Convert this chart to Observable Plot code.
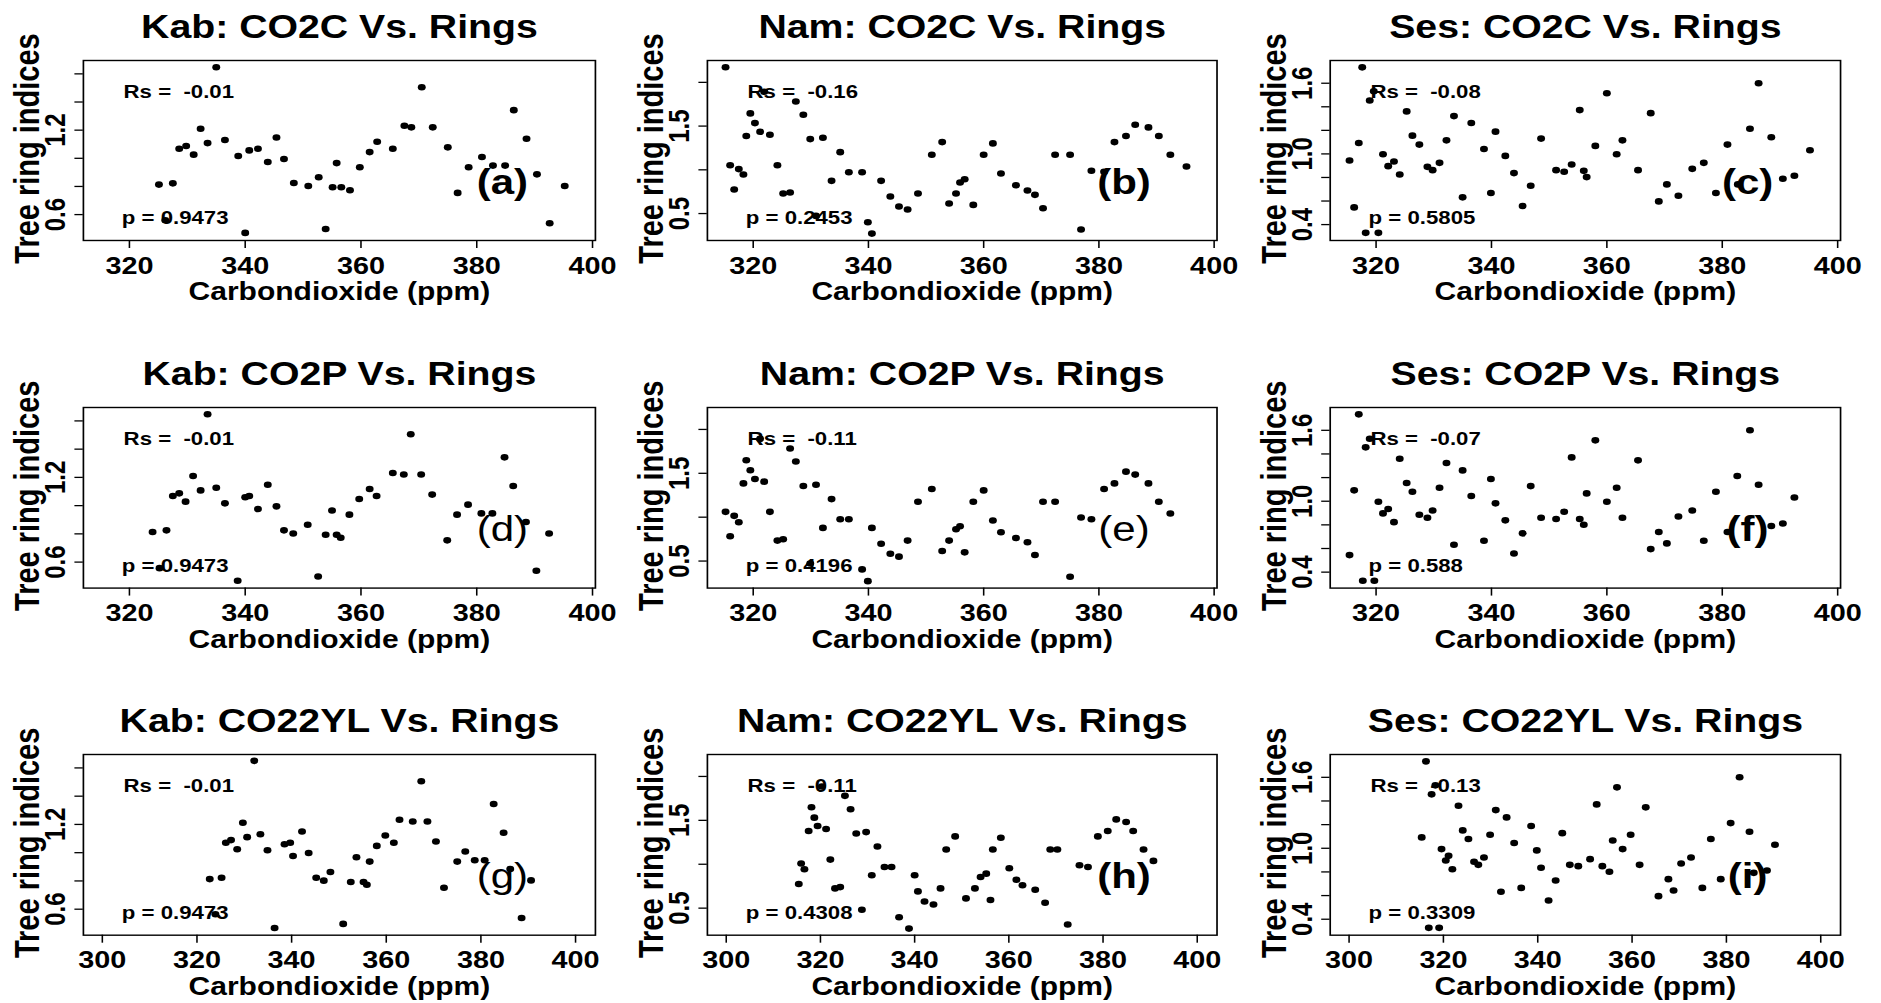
<!DOCTYPE html>
<html><head><meta charset="utf-8">
<script src="https://cdn.jsdelivr.net/npm/d3@7"></script>
<script src="https://cdn.jsdelivr.net/npm/@observablehq/plot@0.6"></script>
<style>
html,body{margin:0;padding:0;background:#fff;overflow:hidden;}
#page{position:relative;width:1881px;height:1003px;overflow:hidden;background:#fff;}
#wrap{position:absolute;left:0;top:0;width:1567.5px;height:1003px;transform:scale(1.2,1);transform-origin:0 0;}
#wrap svg{position:absolute;}
</style>
</head><body><div id="page"><div id="wrap"></div></div>
<script>
// ---- data: [CO2 ppm, tree ring index] ----
const kabCO2C = [[325.1,0.813],[326.2,0.56],[327.5,0.822],[328.6,1.068],[329.8,1.087],[331.1,1.026],[332.3,1.21],[333.5,1.108],[335.0,1.647],[336.5,1.13],[338.8,1.016],[340.0,0.47],[340.7,1.056],[342.2,1.068],[343.9,0.974],[345.4,1.148],[346.7,0.995],[348.4,0.825],[350.9,0.803],[352.7,0.865],[353.9,0.498],[355.1,0.794],[355.8,0.966],[356.6,0.794],[358.1,0.773],[359.8,0.936],[361.5,1.044],[362.8,1.118],[365.5,1.068],[367.5,1.231],[368.7,1.22],[370.5,1.505],[372.4,1.22],[375.0,1.078],[376.7,0.754],[378.6,0.936],[380.9,1.009],[382.8,0.948],[384.9,0.948],[386.4,1.342],[388.6,1.139],[390.4,0.886],[392.6,0.539],[395.2,0.803]];
const kabCO2P = [[324.0,0.813],[325.2,0.557],[326.4,0.825],[327.5,1.068],[328.6,1.087],[329.7,1.028],[331.0,1.21],[332.3,1.108],[333.5,1.647],[335.0,1.127],[336.5,1.016],[338.7,0.468],[340.0,1.059],[340.7,1.068],[342.2,0.976],[343.9,1.148],[345.4,0.995],[346.7,0.825],[348.3,0.803],[350.8,0.865],[352.6,0.498],[353.9,0.794],[355.0,0.966],[355.8,0.794],[356.5,0.773],[358.0,0.936],[359.7,1.047],[361.5,1.118],[362.7,1.068],[365.5,1.231],[367.4,1.22],[368.6,1.505],[370.4,1.22],[372.3,1.078],[374.9,0.754],[376.6,0.936],[378.5,1.007],[380.8,0.945],[382.7,0.945],[384.8,1.342],[386.3,1.139],[388.5,0.884],[390.3,0.539],[392.5,0.803]];
const kabCO22YL = [[322.7,0.813],[323.9,0.564],[325.2,0.823],[326.1,1.07],[327.2,1.089],[328.5,1.024],[329.7,1.212],[330.6,1.11],[332.1,1.65],[333.4,1.131],[334.9,1.017],[336.4,0.467],[338.5,1.06],[339.7,1.07],[340.3,0.977],[342.2,1.15],[343.6,0.998],[345.2,0.823],[346.8,0.802],[348.2,0.863],[350.9,0.496],[352.5,0.792],[353.7,0.968],[355.2,0.792],[355.9,0.773],[356.5,0.937],[358.0,1.048],[359.8,1.122],[361.6,1.07],[362.8,1.233],[365.6,1.221],[367.4,1.506],[368.7,1.221],[370.5,1.079],[372.2,0.752],[375.0,0.937],[376.7,1.008],[378.7,0.946],[380.8,0.946],[382.7,1.345],[384.8,1.141],[386.2,0.885],[388.6,0.538],[390.6,0.804]];
const namCO2C = [[315.2,2.172],[316.0,1.053],[316.7,0.775],[317.5,1.008],[318.3,0.947],[318.8,1.386],[319.5,1.645],[320.3,1.534],[321.2,1.435],[321.9,1.893],[322.9,1.401],[324.2,1.053],[325.2,0.729],[326.4,0.740],[327.4,1.782],[328.7,1.63],[329.9,1.351],[330.9,0.473],[332.1,1.366],[333.6,0.874],[335.1,1.202],[336.6,0.973],[338.9,0.973],[339.9,0.401],[340.6,0.271],[342.2,0.874],[343.8,0.695],[345.3,0.58],[346.8,0.546],[348.6,0.729],[351.0,1.172],[352.8,1.317],[354.0,0.615],[355.2,0.729],[355.9,0.855],[356.7,0.893],[358.2,0.599],[360.0,1.172],[361.6,1.302],[363.0,0.958],[365.6,0.824],[367.6,0.763],[368.9,0.714],[370.3,0.561],[372.4,1.172],[375.0,1.172],[376.9,0.317],[378.7,0.989],[380.9,0.977],[382.7,1.317],[384.7,1.386],[386.3,1.515],[388.6,1.485],[390.4,1.386],[392.4,1.172],[395.2,1.038]];
const namCO2P = [[315.2,1.061],[316.0,0.782],[316.7,1.015],[317.5,0.943],[318.3,1.385],[318.8,1.649],[319.5,1.534],[320.3,1.435],[321.2,1.893],[321.9,1.405],[322.9,1.061],[324.2,0.733],[325.2,0.748],[326.4,1.782],[327.4,1.634],[328.7,1.355],[329.9,0.473],[330.9,1.37],[332.1,0.878],[333.6,1.206],[335.1,0.977],[336.6,0.977],[338.9,0.405],[339.9,0.271],[340.6,0.878],[342.2,0.698],[343.8,0.584],[345.3,0.55],[346.8,0.733],[348.6,1.176],[351.0,1.321],[352.8,0.615],[354.0,0.733],[355.2,0.863],[355.9,0.897],[356.7,0.599],[358.2,1.176],[360.0,1.305],[361.6,0.962],[363.0,0.828],[365.6,0.763],[367.6,0.714],[368.9,0.569],[370.3,1.176],[372.4,1.176],[375.0,0.321],[376.9,0.996],[378.7,0.977],[380.9,1.321],[382.7,1.385],[384.7,1.519],[386.3,1.485],[388.6,1.385],[390.4,1.176],[392.4,1.042]];
const namCO22YL = [[315.4,0.775],[315.9,1.008],[316.6,0.943],[317.5,1.378],[318.1,1.649],[318.7,1.531],[319.4,1.435],[320.3,1.886],[321.2,1.401],[322.1,1.053],[323.1,0.725],[324.2,0.74],[325.2,1.779],[326.4,1.626],[327.6,1.351],[328.8,0.481],[329.7,1.366],[330.9,0.874],[332.1,1.202],[333.6,0.969],[335.1,0.969],[336.7,0.397],[338.8,0.267],[340.0,0.874],[340.7,0.691],[342.1,0.576],[344.0,0.542],[345.5,0.725],[346.7,1.168],[348.6,1.317],[350.9,0.611],[352.8,0.725],[354.0,0.855],[355.2,0.893],[356.1,0.592],[356.6,1.168],[358.3,1.302],[360.1,0.954],[361.6,0.824],[362.9,0.76],[365.6,0.71],[367.7,0.561],[368.8,1.168],[370.3,1.168],[372.5,0.313],[375.0,0.989],[376.8,0.969],[378.9,1.317],[381.0,1.378],[382.8,1.511],[384.9,1.481],[386.4,1.378],[388.6,1.168],[390.7,1.038]];
const sesCO2C = [[315.4,0.944],[316.2,0.546],[317.0,1.093],[317.6,1.735],[318.2,0.33],[318.9,1.454],[319.6,1.532],[320.4,0.33],[321.2,0.997],[322.1,0.896],[323.1,0.935],[324.1,0.825],[325.3,1.361],[326.3,1.155],[327.5,1.079],[328.9,0.89],[329.8,0.862],[331.0,0.924],[332.2,1.115],[333.5,1.321],[335.0,0.631],[336.5,1.262],[338.7,1.042],[339.9,0.668],[340.7,1.189],[342.4,0.983],[343.9,0.837],[345.4,0.558],[346.8,0.73],[348.6,1.13],[351.2,0.862],[352.6,0.848],[353.9,0.91],[355.3,1.372],[356.0,0.856],[356.5,0.803],[358.0,1.068],[360.0,1.515],[361.7,0.997],[362.7,1.115],[365.4,0.862],[367.6,1.346],[369.0,0.597],[370.4,0.741],[372.4,0.645],[374.8,0.873],[376.8,0.924],[378.9,0.668],[380.9,1.079],[382.7,0.741],[384.8,1.214],[386.3,1.6],[388.5,1.141],[390.5,0.789],[392.5,0.814],[395.2,1.031]];
const sesCO2P = [[315.4,0.544],[316.2,1.092],[317.0,1.735],[317.7,0.327],[318.2,1.456],[318.9,1.529],[319.7,0.327],[320.4,0.996],[321.2,0.897],[322.1,0.934],[323.1,0.823],[324.1,1.36],[325.3,1.154],[326.3,1.08],[327.5,0.886],[328.9,0.86],[329.8,0.922],[331.0,1.114],[332.2,1.323],[333.5,0.632],[335.0,1.261],[336.5,1.044],[338.7,0.665],[339.9,1.188],[340.7,0.982],[342.4,0.838],[343.9,0.558],[345.4,0.728],[346.8,1.128],[348.6,0.86],[351.2,0.849],[352.6,0.911],[353.9,1.371],[355.3,0.849],[356.0,0.801],[356.5,1.066],[358.0,1.515],[360.0,0.996],[361.7,1.114],[362.7,0.86],[365.4,1.346],[367.6,0.595],[369.0,0.739],[370.4,0.643],[372.4,0.871],[374.8,0.922],[376.8,0.665],[378.9,1.08],[380.9,0.739],[382.6,1.213],[384.8,1.6],[386.3,1.14],[388.5,0.79],[390.5,0.812],[392.5,1.032]];
const sesCO22YL = [[315.4,1.092],[316.3,1.735],[316.9,0.327],[317.5,1.456],[318.3,1.532],[319.1,0.327],[319.6,0.993],[320.5,0.897],[321.1,0.936],[321.9,0.823],[323.2,1.36],[324.1,1.151],[325.3,1.078],[326.5,0.886],[327.4,0.86],[328.6,0.922],[329.9,1.114],[331.1,1.323],[332.2,0.632],[333.4,1.261],[335.0,1.044],[336.5,0.665],[338.6,1.188],[339.8,0.982],[340.7,0.835],[342.3,0.558],[343.8,0.727],[345.2,1.128],[346.8,0.86],[348.6,0.849],[351.1,0.908],[352.5,1.371],[353.7,0.849],[355.2,0.801],[355.9,1.066],[356.8,1.515],[358.0,0.993],[359.7,1.114],[361.6,0.86],[362.9,1.346],[365.6,0.595],[367.7,0.739],[368.8,0.643],[370.4,0.871],[372.5,0.922],[374.9,0.665],[376.7,1.078],[378.8,0.739],[380.9,1.213],[382.8,1.6],[384.9,1.14],[385.8,0.792],[388.6,0.812],[390.3,1.03]];

// ---- texts ----
const titles = ["Kab: CO2C Vs. Rings","Nam: CO2C Vs. Rings","Ses: CO2C Vs. Rings",
                "Kab: CO2P Vs. Rings","Nam: CO2P Vs. Rings","Ses: CO2P Vs. Rings",
                "Kab: CO22YL Vs. Rings","Nam: CO22YL Vs. Rings","Ses: CO22YL Vs. Rings"];
const rsValues = ["-0.01","-0.16","-0.08","-0.01","-0.11","-0.07","-0.01","-0.11","-0.13"];
const pValues = ["0.9473","0.2453","0.5805","0.9473","0.4196","0.588","0.9473","0.4308","0.3309"];
const panelLabels = ["(a)","(b)","(c)","(d)","(e)","(f)","(g)","(h)","(i)"];
const xLabel = "Carbondioxide (ppm)";
const yLabel = "Tree ring indices";

// ---- ticks ----
const xTicksTop = [320,340,360,380,400];
const xTicksBottom = [300,320,340,360,380,400];
const kabYTicks = [0.6,0.8,1.0,1.2,1.4,1.6];
const kabYLabels = [0.6,1.2];
const namYTicks = [0.5,1.0,1.5,2.0];
const namYLabels = [0.5,1.5];
const sesYTicks = [0.4,0.6,0.8,1.0,1.2,1.4,1.6];
const sesYLabels = [0.4,1.0,1.6];

const datasets = [kabCO2C,namCO2C,sesCO2C,kabCO2P,namCO2P,sesCO2P,kabCO22YL,namCO22YL,sesCO22YL];
const colY = [
  {domain:[0.416,1.695], ticks:kabYTicks, labels:kabYLabels},
  {domain:[0.192,2.25], ticks:namYTicks, labels:namYLabels},
  {domain:[0.265,1.793], ticks:sesYTicks, labels:sesYLabels}
];
const rowX = [
  {domain:[312.05,400.5], ticks:xTicksTop},
  {domain:[312.05,400.5], ticks:xTicksTop},
  {domain:[296.0,404.2], ticks:xTicksBottom}
];
const labelWeights = ["bold","bold","bold","normal","normal","bold","normal","bold","bold"];

// ---- layout (drawn at 1/1.2 horizontal scale, then stretched like the original figure) ----
const colLeft = [69, 589.2, 1108.3], colWidth = [426.7, 424.7, 425.3];
const rowTop = [60, 406.7, 754], rowHeight = [180, 180.6, 180.7];
const mL = 69, mT = 60, mR = 14, mB = 70;
const FONT = "'Liberation Sans', Arial, Helvetica, sans-serif";
const fmt = d3.format(".1f");
const wrap = document.getElementById("wrap");

for (let i = 0; i < 9; i++) {
  const r = Math.floor(i / 3), c = i % 3;
  const data = datasets[i];
  const yc = colY[c], xr = rowX[r];
  const fw = colWidth[c], fh = rowHeight[r];
  const svg = Plot.plot({
    width: mL + fw + mR,
    height: mT + fh + mB,
    marginLeft: mL, marginRight: mR, marginTop: mT, marginBottom: mB,
    x: {domain: xr.domain, label: null},
    y: {domain: yc.domain, label: null},
    style: {fontFamily: FONT, color: "black", background: "transparent", overflow: "visible"},
    marks: [
      Plot.frame({stroke: "black", strokeWidth: 1.4}),
      Plot.axisX({ticks: xr.ticks, tickSize: 8, tickPadding: 8, fontSize: 24, fontWeight: "bold", label: null, strokeWidth: 1.3, tickFormat: d => String(d)}),
      Plot.axisY({ticks: yc.ticks, tickSize: 7, tickFormat: () => "", label: null, strokeWidth: 1.3}),
      Plot.text(yc.labels, {y: d => d, text: d => fmt(d), frameAnchor: "left", rotate: -90, textAnchor: "middle", lineAnchor: "bottom", dx: -15.5, fontSize: 24, fontWeight: "bold"}),
      Plot.text([yLabel], {frameAnchor: "left", rotate: -90, textAnchor: "middle", lineAnchor: "bottom", dx: -37, dy: -2, fontSize: 29, fontWeight: "bold"}),
      Plot.text([titles[i]], {frameAnchor: "top", lineAnchor: "bottom", dy: -22, fontSize: 32.7, fontWeight: "bold"}),
      Plot.text([xLabel], {frameAnchor: "bottom", lineAnchor: "bottom", dy: 60, fontSize: 25, fontWeight: "bold"}),
      Plot.dot(data, {x: d => d[0], y: d => d[1], r: 3.3, fill: "black"}),
      Plot.text(["Rs = \u00a0" + rsValues[i]], {frameAnchor: "top-left", textAnchor: "start", lineAnchor: "bottom", dx: 33.5, dy: 37.5, fontSize: 18.5, fontWeight: "bold"}),
      Plot.text(["p = " + pValues[i]], {frameAnchor: "bottom-left", textAnchor: "start", lineAnchor: "bottom", dx: 32, dy: -16.5, fontSize: 18.5, fontWeight: "bold"}),
      Plot.text([panelLabels[i]], {frameAnchor: "top-right", textAnchor: "middle", lineAnchor: "middle", dx: -77.5, dy: 122, fontSize: 35, fontWeight: labelWeights[i]})
    ]
  });
  svg.style.left = (colLeft[c] - mL) + "px";
  svg.style.top = (rowTop[r] - mT) + "px";
  wrap.appendChild(svg);
}
</script>
</body></html>
